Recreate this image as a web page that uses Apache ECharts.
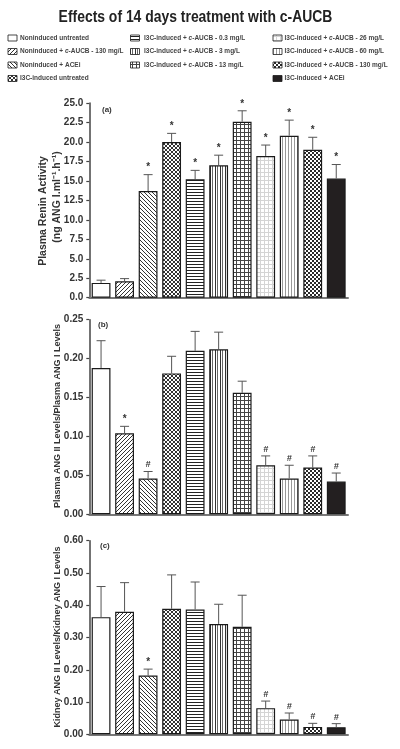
<!DOCTYPE html>
<html>
<head>
<meta charset="utf-8">
<script src="https://cdn.jsdelivr.net/npm/echarts@6/dist/echarts.min.js"></script>
<style>html,body{margin:0;padding:0;background:#fff}#c{width:400px;height:749px}</style>
</head>
<body>
<div id="c"></div>
<script>
// ---------- data ----------
const groups = [
  'Noninduced untreated',
  'Noninduced + c-AUCB - 130 mg/L',
  'Noninduced + ACEi',
  'I3C-induced untreated',
  'I3C-induced + c-AUCB - 0.3 mg/L',
  'I3C-induced + c-AUCB - 3 mg/L',
  'I3C-induced + c-AUCB - 13 mg/L',
  'I3C-induced + c-AUCB - 26 mg/L',
  'I3C-induced + c-AUCB - 60 mg/L',
  'I3C-induced + c-AUCB - 130 mg/L',
  'I3C-induced + ACEi'
];
const reninMean = [1.9, 2.1, 13.7, 20.0, 15.2, 17.0, 22.6, 18.2, 20.8, 19.0, 15.3];
const reninErr  = [0.35, 0.35, 2.1, 1.1, 1.15, 1.3, 1.4, 1.4, 2.0, 1.6, 1.8];
const reninMark = ['', '', '*', '*', '*', '*', '*', '*', '*', '*', '*'];

const plasmaMean = [0.188, 0.104, 0.046, 0.181, 0.210, 0.212, 0.156, 0.063, 0.046, 0.060, 0.042];
const plasmaErr  = [0.035, 0.009, 0.009, 0.022, 0.025, 0.022, 0.015, 0.012, 0.017, 0.015, 0.011];
const plasmaMark = ['', '*', '#', '', '', '', '', '#', '#', '#', '#'];

const kidneyMean = [0.363, 0.380, 0.182, 0.389, 0.387, 0.342, 0.333, 0.081, 0.046, 0.023, 0.022];
const kidneyErr  = [0.095, 0.090, 0.020, 0.105, 0.085, 0.061, 0.098, 0.022, 0.020, 0.011, 0.011];
const kidneyMark = ['', '', '*', '', '', '', '', '#', '#', '#', '#'];

const reninTicks = {min: 0, max: 25, interval: 2.5};
const plasmaTicks = {min: 0, max: 0.25, interval: 0.05};
const kidneyTicks = {min: 0, max: 0.6, interval: 0.1};

// legend layout: columns of group indices
const legendCols = [[0, 1, 2, 3], [4, 5, 6], [7, 8, 9, 10]];

// ---------- patterns ----------
function pat(w, h, draw) {
  const c = document.createElement('canvas');
  c.width = w; c.height = h;
  const g = c.getContext('2d');
  g.fillStyle = '#fff'; g.fillRect(0, 0, w, h);
  draw(g);
  return {image: c, repeat: 'repeat'};
}
const fills = [
  '#ffffff',
  pat(4, 4, g => { g.fillStyle = '#333'; for (let i = 0; i < 4; i++) g.fillRect(i, 3 - i, 1, 1); }),
  pat(4, 4, g => { g.fillStyle = '#333'; for (let i = 0; i < 4; i++) g.fillRect(i, i, 1, 1); }),
  pat(4, 4, g => { g.fillStyle = '#333'; for (let i = 0; i < 4; i++) { g.fillRect(i, i, 1, 1); g.fillRect(i, 3 - i, 1, 1); } }),
  pat(4, 3, g => { g.fillStyle = '#222'; g.fillRect(0, 0, 4, 1); }),
  pat(5, 4, g => { g.fillStyle = '#333'; g.fillRect(0, 0, 1, 4); g.fillStyle = '#666'; g.fillRect(2, 0, 1, 4); }),
  pat(4, 4, g => { g.fillStyle = '#444'; g.fillRect(0, 0, 4, 1); g.fillRect(0, 0, 1, 4); }),
  pat(4, 4, g => { g.fillStyle = '#d4d4d4'; g.fillRect(0, 0, 4, 1); g.fillRect(0, 0, 1, 4); }),
  pat(3, 4, g => { g.fillStyle = '#999'; g.fillRect(0, 0, 1, 4); }),
  pat(4, 4, g => { g.fillStyle = '#2a2a2a'; g.fillRect(0, 0, 2, 2); g.fillRect(2, 2, 2, 2); }),
  '#231f20'
];

// ---------- chart ----------
const FONT = 'Liberation Sans, Arial, sans-serif';
const chart = echarts.init(document.getElementById('c'), null, {renderer: 'canvas'});

const gridTops = [103, 319.7, 540.7];
const gridH = [194.7, 194.6, 193.6];
const grids = gridTops.map((t, i) => ({left: 89.3, width: 258.7, top: t, height: gridH[i]}));

const xAxes = grids.map((g, i) => ({
  type: 'category', gridIndex: i, data: groups,
  axisLine: {lineStyle: {color: '#777', width: 2}},
  axisTick: {show: false}, axisLabel: {show: false}
}));
const tickSets = [reninTicks, plasmaTicks, kidneyTicks];
const fmts = [v => v.toFixed(1), v => v.toFixed(2), v => v.toFixed(2)];
const yAxes = tickSets.map((t, i) => ({
  type: 'value', gridIndex: i, min: t.min, max: t.max, interval: t.interval,
  axisLine: {show: true, lineStyle: {color: '#444', width: 1.5}},
  axisTick: {show: true, length: 3, lineStyle: {color: '#444', width: 1.2}},
  splitLine: {show: false},
  axisLabel: {formatter: fmts[i], fontSize: 10, fontWeight: 'bold', color: '#333', fontFamily: FONT, margin: 6}
}));

function barSeries(vals, idx) {
  return {
    type: 'bar', xAxisIndex: idx, yAxisIndex: idx, barWidth: '80%',
    data: vals.map((v, i) => ({value: v, itemStyle: {color: fills[i], borderColor: '#1a1a1a', borderWidth: 1.2}})),
    silent: true, z: 2
  };
}
function errSeries(vals, errs, marks, idx) {
  return {
    type: 'custom', xAxisIndex: idx, yAxisIndex: idx, z: 3, silent: true,
    encode: {x: 0, y: 1},
    data: vals.map((v, i) => [i, v, errs[i]]),
    renderItem: function (params, api) {
      const i = api.value(0), v = api.value(1), e = api.value(2);
      const p0 = api.coord([i, v]);
      const p1 = api.coord([i, v + e]);
      const ch = [
        {type: 'line', shape: {x1: p0[0], y1: p0[1], x2: p0[0], y2: p1[1]}, style: {stroke: '#555', lineWidth: 1}},
        {type: 'line', shape: {x1: p0[0] - 4.5, y1: p1[1], x2: p0[0] + 4.5, y2: p1[1]}, style: {stroke: '#555', lineWidth: 1}}
      ];
      const m = marks[params.dataIndex];
      if (m) {
        ch.push({type: 'text', style: {
          text: m, x: p0[0], y: p1[1] - 2, textAlign: 'center', textVerticalAlign: 'bottom',
          font: (m === '*' ? 'bold 10px ' : 'italic bold 9px ') + FONT, fill: '#333'
        }});
      }
      return {type: 'group', children: ch};
    }
  };
}

// legend via graphic
const legendX = [[8, 20], [130.5, 144], [273, 284.5]];
const rowY = [38, 51.5, 65, 78.5];
const legendEls = [];
legendCols.forEach((col, ci) => {
  col.forEach((gi, ri) => {
    legendEls.push({type: 'rect', shape: {x: legendX[ci][0], y: rowY[ri] - 3, width: 9, height: 6},
      style: {fill: fills[gi], stroke: '#1a1a1a', lineWidth: 0.8}});
    const name = groups[gi];
    const rich = name.replace('c-AUCB', '{i|c}-AUCB');
    legendEls.push({type: 'text', x: legendX[ci][1], y: rowY[ri], style: {
      text: rich, fontSize: 6.5, fontWeight: 'bold', fontFamily: FONT, fill: '#444',
      verticalAlign: 'middle', align: 'left',
      rich: {i: {fontSize: 6.5, fontStyle: 'italic', fontWeight: 'bold', fontFamily: FONT, fill: '#444'}}
    }});
  });
});

const textEls = [
  {type: 'text', x: 195.5, y: 18, scaleX: 0.87, style: {text: 'Effects of 14 days treatment with c-AUCB', font: 'bold 16px ' + FONT, fill: '#222', align: 'center', verticalAlign: 'middle'}},
  {type: 'text', x: 43, y: 211, rotation: Math.PI / 2, style: {text: 'Plasma Renin Activity', font: 'bold 10.5px ' + FONT, fill: '#333', align: 'center', verticalAlign: 'middle'}},
  {type: 'text', x: 57, y: 197, rotation: Math.PI / 2, style: {text: '(ng ANG I.ml\u207B\u00B9.h\u207B\u00B9)', font: 'bold 10.5px ' + FONT, fill: '#333', align: 'center', verticalAlign: 'middle'}},
  {type: 'text', x: 58, y: 416, rotation: Math.PI / 2, style: {text: 'Plasma ANG II Levels/Plasma ANG I Levels', font: 'bold 9px ' + FONT, fill: '#333', align: 'center', verticalAlign: 'middle'}},
  {type: 'text', x: 58, y: 637, rotation: Math.PI / 2, style: {text: 'Kidney ANG II Levels/Kidney ANG I Levels', font: 'bold 9px ' + FONT, fill: '#333', align: 'center', verticalAlign: 'middle'}},
  {type: 'text', x: 102, y: 110, style: {text: '(a)', font: 'bold 8px ' + FONT, fill: '#333', verticalAlign: 'middle'}},
  {type: 'text', x: 98, y: 325, style: {text: '(b)', font: 'bold 8px ' + FONT, fill: '#333', verticalAlign: 'middle'}},
  {type: 'text', x: 100, y: 546, style: {text: '(c)', font: 'bold 8px ' + FONT, fill: '#333', verticalAlign: 'middle'}}
];

chart.setOption({
  animation: false,
  backgroundColor: '#fff',
  grid: grids,
  xAxis: xAxes,
  yAxis: yAxes,
  series: [
    barSeries(reninMean, 0), errSeries(reninMean, reninErr, reninMark, 0),
    barSeries(plasmaMean, 1), errSeries(plasmaMean, plasmaErr, plasmaMark, 1),
    barSeries(kidneyMean, 2), errSeries(kidneyMean, kidneyErr, kidneyMark, 2)
  ],
  graphic: legendEls.concat(textEls)
});
</script>
</body>
</html>
